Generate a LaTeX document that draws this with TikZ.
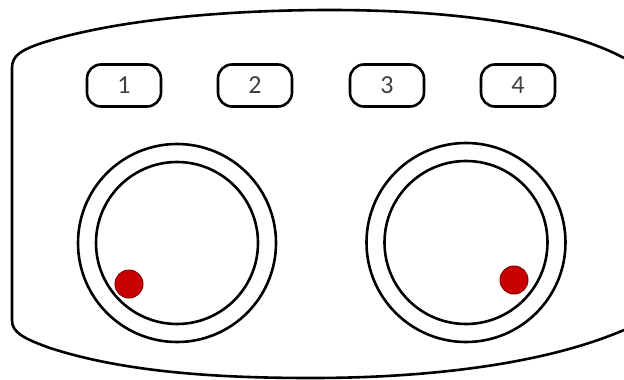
\documentclass[tikz,border=0pt]{standalone}
\usepackage{fontspec}
\setmainfont{Carlito}
\definecolor{dotred}{HTML}{C80000}
\definecolor{dotedge}{HTML}{8A0000}
\definecolor{txt}{HTML}{404040}
\tikzset{
  btn/.style={draw=black, line width=2.6pt, rounded corners=14pt, minimum width=74pt, minimum height=42pt, inner sep=0pt, text=txt, font=\fontsize{26}{30}\selectfont},
  ring/.style={draw=black, line width=2.6pt, circle, inner sep=0pt},
  dot/.style={circle, fill=dotred, draw=dotedge, line width=1pt, minimum size=28pt, inner sep=0pt},
  outline/.style={draw=black, line width=2.6pt}
}
\begin{document}
\begin{tikzpicture}[x=1pt,y=-1pt]
\useasboundingbox (0,0) rectangle (624,380);
% outer casing
\draw[outline] (624,58) .. controls (560,24) and (450,10) .. (330,10)
  .. controls (250,10) and (130,16) .. (45,42)
  .. controls (20,50) and (12,56) .. (12,68)
  -- (12,320)
  .. controls (12,332) and (22,338) .. (50,348)
  .. controls (130,374) and (230,378) .. (312,378)
  .. controls (420,378) and (540,366) .. (624,330);
% buttons
\node[btn] (b1) at (124,85.5) {1};
\node[btn] (b2) at (255,85.5) {2};
\node[btn] (b3) at (387,85.5) {3};
\node[btn] (b4) at (518,85.5) {4};
% knobs
\node[ring, minimum size=198pt] (k1o) at (177,243) {};
\node[ring, minimum size=162pt] (k1i) at (177,243) {};
\node[ring, minimum size=199pt] (k2o) at (466,242.5) {};
\node[ring, minimum size=163pt] (k2i) at (466,242.5) {};
% indicator dots
\node[dot] (d1) at (129,284) {};
\node[dot] (d2) at (514,280) {};
\end{tikzpicture}
\end{document}
